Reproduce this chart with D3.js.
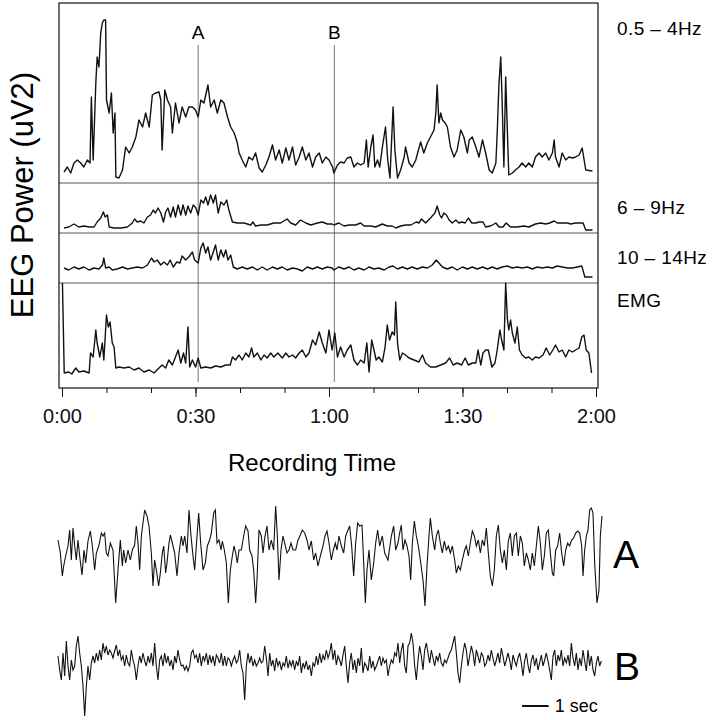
<!DOCTYPE html>
<html>
<head>
<meta charset="utf-8">
<script src="https://d3js.org/d3.v7.min.js"></script>
<style>
  body { margin: 0; background: #fff; }
  svg { font-family: "Liberation Sans", Arial, sans-serif; }
</style>
</head>
<body>
<div id="chart"></div>
<script>
// ---- data (time in s, power in arbitrary units) ----
const timeTicks = [0, 30, 60, 90, 120];
const tickLabels = ['0:00', '0:30', '1:00', '1:30', '2:00'];
const bandLabels = ['0.5 – 4Hz', '6 – 9Hz', '10 – 14Hz', 'EMG'];
const markerNames = ['A', 'B'];
const markerTimes = [30.6, 61.2];

const delta = [[0.45,6],[1.2,11],[1.95,5],[2.7,15],[3.45,18],[4.2,15],[4.9,11],[5.7,18],[6.3,15],[6.6,81],[7.0,18],[7.6,95],[7.9,121],[8.3,111],[8.7,145],[9.06,155],[9.4,158],[9.8,158],[10.0,78],[10.6,65],[11.1,85],[11.5,45],[11.9,65],[12.1,1],[12.8,0],[13.6,8],[14.3,31],[15.1,25],[15.8,31],[16.6,41],[17.3,58],[18.1,51],[18.8,65],[19.6,51],[20.3,83],[21.0,85],[21.8,86],[22.2,78],[22.5,28],[23.1,88],[23.7,78],[24.4,71],[24.8,45],[25.5,75],[26.3,55],[27.0,71],[27.8,61],[28.5,71],[29.3,71],[30.0,68],[30.6,61],[31.2,78],[31.9,75],[32.8,93],[33.4,71],[34.2,78],[34.9,65],[35.7,78],[36.4,75],[37.2,61],[37.9,51],[38.7,45],[39.4,35],[39.8,25],[40.5,18],[41.3,11],[42.0,21],[42.8,18],[43.5,25],[44.3,10],[45.0,6],[45.8,13],[46.5,21],[47.3,33],[48.0,18],[48.8,28],[49.5,15],[50.3,30],[51.0,18],[51.8,31],[52.5,13],[53.3,21],[54.0,31],[54.8,18],[55.5,25],[56.3,11],[57.0,21],[57.8,25],[58.5,15],[59.3,21],[60.0,18],[60.8,11],
  [61.1,5],[61.9,13],[62.6,16],[63.4,15],[64.1,20],[64.9,21],[65.6,11],[66.4,15],[67.1,13],[67.9,15],[68.4,38],[68.8,11],[69.4,31],[69.9,43],[70.3,11],[70.9,18],[71.4,11],[72.0,31],[72.7,51],[73.2,18],[73.7,0],[74.4,71],[74.8,28],[75.4,0],[76.1,8],[76.9,21],[77.2,31],[78.0,15],[78.7,11],[79.5,18],[80.1,28],[80.6,36],[81.3,25],[82.1,35],[82.8,41],[83.6,48],[84.0,65],[84.3,93],[84.7,55],[85.1,65],[85.5,58],[86.1,55],[86.6,51],[87.3,31],[88.1,21],[88.8,28],[89.6,48],[90.3,41],[91.1,25],[91.5,38],[92.2,41],[93.0,31],[93.7,21],[94.5,38],[95.2,25],[96.0,8],[96.7,5],[97.5,15],[97.8,45],[98.2,95],[98.6,121],[98.9,78],[99.3,11],[99.7,101],[100.1,45],[100.4,3],[101.2,5],[101.9,8],[102.7,11],[103.4,15],[104.2,11],[104.9,15],[105.7,11],[106.4,21],[107.2,25],[107.9,21],[108.7,25],[109.4,18],[110.2,25],[110.6,38],[110.9,21],[111.7,11],[112.4,25],[113.2,18],[113.9,21],[114.7,20],[115.4,21],[116.2,23],[116.9,30],[117.7,8],[119.2,7]];

const theta = [[0.45,3],[1.5,4],[2.7,7],[3.8,4],[4.9,5],[6.1,4],[7.2,4],[7.9,9],[8.7,13],[9.3,19],[9.7,14],[10.2,16],[10.6,4],[11.7,3],[13.2,3],[14.7,4],[15.8,8],[16.3,12],[16.9,9],[17.7,10],[18.4,8],[19.2,14],[19.9,16],[20.5,21],[21.0,18],[21.6,23],[22.2,18],[22.8,9],[23.3,19],[23.8,23],[24.4,14],[25.0,24],[25.5,14],[26.1,26],[26.7,16],[27.2,26],[27.8,16],[28.3,25],[28.9,18],[29.5,26],[30.1,23],[30.6,16],[31.2,31],[31.8,28],[32.3,34],[32.8,26],[33.4,36],[34.0,28],[34.5,36],[35.1,18],[35.7,29],[36.4,26],[37.0,31],[37.5,21],[38.3,9],[39.4,8],[40.9,8],[42.4,6],[42.9,9],[43.5,5],[44.7,6],[46.1,6],[47.6,8],[49.1,8],[50.6,12],[51.4,8],[52.5,6],[53.6,11],[54.8,8],[55.9,6],[57.4,8],[58.5,9],[59.6,7],[60.7,7],
  [61.1,6],[62.2,8],[63.4,5],[64.5,6],[66.0,6],[67.1,8],[67.9,5],[69.4,5],[70.5,4],[72.0,7],[73.1,5],[74.2,5],[75.0,3],[76.1,5],[77.2,6],[78.4,6],[79.6,9],[80.2,8],[80.8,12],[81.7,8],[82.8,13],[83.8,18],[84.3,25],[84.9,16],[85.3,13],[85.8,18],[86.4,16],[87.0,11],[87.7,8],[88.5,11],[89.2,8],[89.8,9],[90.6,8],[91.3,13],[92.1,8],[93.0,8],[93.7,9],[94.6,9],[95.2,4],[96.3,5],[97.5,8],[98.2,4],[99.1,4],[99.8,8],[100.8,4],[102.3,4],[103.8,5],[104.9,4],[106.4,7],[107.6,8],[108.7,7],[109.6,8],[110.6,10],[111.3,8],[112.4,8],[113.6,8],[114.3,7],[115.4,8],[116.3,8],[117.1,8],[117.7,1],[119.2,1]];

const alpha = [[0.45,10],[1.5,8],[2.7,11],[3.8,9],[4.9,11],[6.1,8],[7.2,10],[8.3,9],[9.1,13],[9.4,20],[9.8,10],[10.6,11],[11.3,8],[12.4,9],[13.6,11],[14.7,9],[15.8,10],[16.9,11],[18.1,10],[19.2,13],[20.1,20],[20.7,16],[21.4,18],[22.2,13],[22.9,16],[23.7,13],[24.3,18],[25.0,11],[25.8,16],[26.5,15],[27.0,22],[27.8,18],[28.5,21],[29.3,26],[29.8,18],[30.6,15],[31.2,30],[31.7,35],[32.3,25],[32.8,31],[33.4,18],[34.0,26],[34.5,33],[35.1,18],[35.7,28],[36.3,21],[36.8,28],[37.3,18],[37.9,23],[38.5,11],[39.4,9],[40.5,11],[41.6,9],[42.8,11],[43.9,8],[45.0,11],[46.1,8],[47.3,11],[48.4,9],[49.5,11],[50.6,8],[51.8,10],[52.9,9],[54.0,7],[55.1,11],[56.3,9],[57.4,11],[58.5,9],[59.6,11],[60.7,10],
  [61.1,8],[62.2,11],[63.4,9],[64.5,11],[65.6,8],[66.7,10],[67.9,8],[69.0,11],[70.1,9],[71.2,10],[72.4,8],[73.5,11],[74.4,12],[75.4,9],[76.5,11],[77.6,9],[78.7,11],[79.8,9],[81.0,11],[82.1,10],[83.2,13],[84.1,18],[84.7,15],[85.5,11],[86.6,9],[87.7,11],[88.8,8],[90.0,11],[91.1,9],[92.2,11],[93.3,9],[94.5,11],[95.6,9],[96.7,11],[97.8,9],[98.9,11],[100.1,12],[101.2,10],[102.3,11],[103.4,10],[104.6,11],[105.7,9],[106.8,11],[107.9,10],[109.1,11],[110.2,10],[111.3,12],[112.4,11],[113.6,10],[114.7,10],[115.8,11],[116.8,12],[117.5,1],[119.2,1]];

const emg = [[0.1,92],[0.5,2],[1.5,3],[2.2,1],[3.1,7],[3.8,3],[4.9,4],[6.1,2],[6.4,22],[7.0,18],[7.6,45],[7.9,32],[8.5,18],[9.06,32],[9.4,15],[10.0,60],[10.4,48],[10.8,53],[11.3,32],[11.7,28],[12.1,7],[12.8,8],[13.9,7],[15.1,8],[16.2,5],[17.3,7],[18.4,3],[19.6,5],[20.7,2],[21.8,7],[22.5,10],[23.3,7],[24.0,15],[24.8,10],[25.5,18],[26.1,25],[26.7,12],[27.3,22],[27.8,12],[28.3,48],[28.7,8],[29.3,15],[30.0,8],[30.6,17],[31.2,7],[32.3,8],[33.4,7],[34.5,9],[35.7,8],[36.8,10],[37.8,10],[38.3,18],[39.0,15],[39.8,20],[40.5,15],[41.3,22],[42.0,18],[42.6,27],[43.1,18],[43.9,22],[44.7,15],[45.4,20],[46.1,17],[46.9,22],[47.6,18],[48.5,22],[49.5,17],[50.3,22],[51.0,18],[51.8,20],[52.5,17],[53.3,22],[54.0,25],[54.8,18],[55.5,22],[56.3,35],[57.0,30],[57.8,43],[58.5,32],[59.3,22],[60.0,45],
  [60.7,25],[61.3,42],[61.9,18],[62.6,28],[63.4,18],[64.1,25],[64.9,30],[65.6,15],[66.4,10],[67.1,15],[67.9,12],[68.5,32],[69.0,3],[69.6,35],[70.1,25],[70.6,15],[71.2,18],[72.0,13],[72.6,28],[73.1,50],[73.6,35],[74.2,43],[74.7,40],[75.0,73],[75.4,32],[75.9,15],[76.5,22],[77.2,20],[78.0,17],[79.1,15],[80.2,13],[81.0,20],[81.7,12],[82.8,8],[84.0,8],[85.1,10],[86.2,12],[87.1,17],[87.9,10],[88.8,12],[89.8,10],[90.6,17],[91.3,10],[92.2,12],[93.0,12],[93.5,25],[94.1,10],[94.6,22],[95.2,25],[95.8,25],[96.6,8],[97.3,12],[97.8,25],[98.4,45],[98.8,35],[99.3,25],[99.7,92],[100.1,55],[100.4,45],[100.8,55],[101.2,42],[101.8,32],[102.3,48],[102.8,25],[103.4,20],[104.2,17],[104.9,18],[105.7,15],[106.4,18],[107.2,17],[108.1,20],[108.8,27],[109.6,20],[110.3,25],[110.9,30],[111.7,23],[112.4,25],[113.2,18],[113.9,25],[114.7,23],[115.4,25],[116.2,27],[116.8,38],[117.3,40],[117.8,25],[118.4,22],[119.0,2]];

// raw EEG epochs: [sample, value] at 80 Hz for A, evenly spaced values at 16 Hz for B
const fsA = 80;
const fsB = 16;
const traceA = [[0,13],[7,0],[13,-23],[17,-13],[23,-3],[30,7],[35,23],[40,-7],[45,25],[50,7],[55,-7],[60,13],[65,-3],[72,-22],[78,3],[83,-10],[90,12],[97,22],[103,7],[110,-17],[115,0],[123,8],[130,20],[135,17],[140,20],[145,0],[150,-3],[157,10],[165,3],[173,-50],[180,-17],[187,13],[193,-13],[197,3],[203,-10],[210,3],[217,-7],[223,3],[230,8],[235,27],[240,10],[245,-17],[250,17],[255,30],[260,43],[267,37],[273,27],[280,0],[285,-33],[290,-7],[295,-17],[302,-33],[307,-20],[313,0],[317,7],[323,-20],[327,-10],[333,10],[337,18],[343,10],[350,0],[357,-23],[363,0],[370,17],[375,7],[380,17],[387,0],[393,43],[399,17],[405,-3],[410,-17],[415,7],[422,40],[428,10],[435,-17],[442,-10],[448,7],[455,13],[460,20],[467,40],[472,43],[477,10],[483,13],[489,3],[493,12],[499,3],[505,-10],[511,-50],[517,-17],[523,-3],[528,7],[533,0],[538,-10],[543,3],[550,3],[557,17],[563,27],[570,22],[575,3],[582,-3],[587,-17],[593,-50],[597,-27],[603,23],[610,17],[615,0],[621,17],[627,27],[633,3],[640,13],[647,3],[653,47],[658,17],[663,-27],[669,3],[675,17],[682,7],[687,0],[693,3],[699,10],[705,3],[713,3],[720,13],[727,18],[733,23],[740,20],[747,13],[753,3],[760,12],[767,-7],[773,0],[780,-13],[787,-3],[795,7],[801,17],[807,22],[813,10],[820,-7],[826,3],[832,10],[837,3],[843,17],[850,7],[857,0],[863,17],[870,23],[875,27],[881,7],[887,-23],[893,10],[899,30],[905,27],[912,28],[918,-17],[922,-50],[927,-17],[933,3],[940,-27],[947,-10],[953,10],[959,23],[965,7],[973,17],[980,0],[990,-7],
  [1000,17],[1007,27],[1013,3],[1020,10],[1025,20],[1030,28],[1035,3],[1041,13],[1047,7],[1053,-3],[1058,-27],[1063,10],[1069,32],[1075,17],[1081,7],[1087,-7],[1095,-27],[1101,-53],[1107,-13],[1113,17],[1117,35],[1123,17],[1130,3],[1135,17],[1141,23],[1147,10],[1153,0],[1159,12],[1165,3],[1171,7],[1177,0],[1183,7],[1190,-7],[1195,-20],[1201,-13],[1207,-17],[1213,-7],[1220,3],[1225,7],[1231,-3],[1237,10],[1243,22],[1249,17],[1255,7],[1261,13],[1267,0],[1273,13],[1279,7],[1285,25],[1291,0],[1297,-23],[1303,-33],[1309,-17],[1315,17],[1321,28],[1327,3],[1333,-10],[1339,3],[1345,-17],[1351,12],[1357,20],[1363,-3],[1369,17],[1375,20],[1381,-3],[1387,17],[1393,10],[1399,-13],[1405,0],[1411,-7],[1417,-17],[1423,0],[1429,-13],[1435,7],[1441,27],[1447,10],[1453,-17],[1459,-3],[1465,20],[1471,23],[1477,0],[1483,-20],[1487,-23],[1493,3],[1499,7],[1505,20],[1511,0],[1517,-13],[1523,3],[1529,10],[1535,7],[1541,13],[1547,15],[1553,20],[1559,22],[1565,20],[1571,7],[1575,-23],[1580,3],[1585,17],[1590,23],[1595,43],[1600,45],[1605,40],[1610,-10],[1617,-50],[1623,-37],[1627,17],[1632,37]];

const traceB = [7,-7,-17,10,-13,22,-3,-17,3,-7,-3,17,27,10,-3,-23,-53,-23,-3,-17,0,7,0,10,2,13,3,20,10,17,8,13,10,5,12,18,7,13,3,7,-3,8,0,-3,13,3,-3,-17,-3,7,0,10,2,-3,7,0,10,-3,20,-3,-17,3,7,-3,10,0,7,-3,3,-7,7,0,13,3,-3,-2,-7,-3,-8,-3,10,13,5,8,0,10,-3,7,2,10,-2,8,0,7,-3,8,5,0,10,-3,7,-3,5,3,-3,3,7,0,3,13,-3,-10,-37,-3,10,0,7,-3,3,-3,0,5,0,2,17,5,-13,10,-3,3,-8,5,-3,2,-7,0,-3,7,-5,2,-3,3,-7,2,-3,7,-10,0,-5,2,-7,-2,-13,0,-3,7,-2,10,0,8,3,13,5,10,20,3,13,-2,7,3,-3,8,17,-3,-20,0,10,-7,3,-10,5,-3,15,-10,0,-3,-8,7,-5,2,-7,-3,2,7,-3,5,0,3,-13,
  -3,3,0,10,7,20,0,13,20,-3,-10,17,20,30,20,-3,-17,3,17,7,-7,13,20,10,0,13,5,-3,7,2,10,0,-3,3,0,5,10,13,20,27,10,-10,-20,-3,10,20,13,-3,7,17,10,-3,13,7,0,10,7,-3,0,8,2,13,5,-3,3,10,0,15,7,-3,3,10,3,-7,8,2,-3,5,10,0,-13,2,10,-2,-10,3,8,-3,5,-7,0,8,-3,3,10,2,-7,-17,7,13,-3,8,2,13,-3,5,0,8,-3,20,5,-3,10,-7,5,-3,13,2,-8,13,-3,7,-7,-13,0,7,-3,2];
const scaleBarSec = 1;
const scaleBarStart = 17.4;

// ---- layout ----
const W = 720, H = 720;
const svg = d3.select('#chart').append('svg')
    .attr('width', W)
    .attr('height', H);
svg.append('rect').attr('width', W).attr('height', H).attr('fill', '#fff');

const box = { left: 59, right: 598, top: 3, bottom: 388 };
const x = d3.scaleLinear().domain([0, 120]).range([62, 596]);

// panels: value scales for each band
const panels = [
    { data: delta, y: d3.scaleLinear().domain([0, 160]).range([178, 18]), labelY: 28 },
    { data: theta, y: d3.scaleLinear().domain([0, 40]).range([231, 191]), labelY: 207 },
    { data: alpha, y: d3.scaleLinear().domain([0, 40]).range([278, 238]), labelY: 257 },
    { data: emg, y: d3.scaleLinear().domain([0, 92]).range([375, 283]), labelY: 300 }
];
const dividers = [183, 233, 283];

// dividers
svg.selectAll('.divider')
    .data(dividers)
    .enter()
    .append('line')
    .attr('class', 'divider')
    .attr('x1', box.left).attr('x2', box.right)
    .attr('y1', d => d).attr('y2', d => d)
    .attr('stroke', '#555')
    .attr('stroke-width', 1);

// marker lines A / B
svg.selectAll('.marker')
    .data(markerTimes)
    .enter()
    .append('line')
    .attr('class', 'marker')
    .attr('x1', d => x(d)).attr('x2', d => x(d))
    .attr('y1', 45).attr('y2', 382)
    .attr('stroke', '#555')
    .attr('stroke-width', 0.8);

svg.selectAll('.marker-label')
    .data(markerNames)
    .enter()
    .append('text')
    .attr('x', (d, i) => x(markerTimes[i]))
    .attr('y', 39)
    .attr('text-anchor', 'middle')
    .style('font-size', '19px')
    .text(d => d);

// traces
panels.forEach((p, i) => {
    const line = d3.line()
        .x(d => x(d[0]))
        .y(d => p.y(d[1]));
    svg.append('path')
        .datum(p.data)
        .attr('d', line)
        .attr('fill', 'none')
        .attr('stroke', '#111')
        .attr('stroke-width', 1.4)
        .attr('stroke-linejoin', 'round');

    svg.append('text')
        .attr('x', 617)
        .attr('y', p.labelY)
        .attr('dy', '0.35em')
        .style('font-size', '19px')
        .style('letter-spacing', '0.4px')
        .text(bandLabels[i]);
});

// frame
svg.append('rect')
    .attr('x', box.left).attr('y', box.top)
    .attr('width', box.right - box.left)
    .attr('height', box.bottom - box.top)
    .attr('fill', 'none')
    .attr('stroke', '#111')
    .attr('stroke-width', 1.2);

// x axis
const minorAxis = svg.append('g')
    .attr('transform', `translate(0,${box.bottom})`)
    .call(d3.axisBottom(x).tickValues(d3.range(0, 121, 10)).tickSize(5).tickFormat(''));
minorAxis.select('.domain').remove();

const majorAxis = svg.append('g')
    .attr('transform', `translate(0,${box.bottom})`)
    .call(d3.axisBottom(x)
        .tickValues(timeTicks)
        .tickSize(9)
        .tickPadding(12)
        .tickFormat((d, i) => tickLabels[i]));
majorAxis.select('.domain').remove();
majorAxis.selectAll('text')
    .style('font-size', '20px')
    .style('font-family', '"Liberation Sans Narrow", "Liberation Sans", Arial, sans-serif')
    .attr('fill', '#111');
svg.selectAll('.tick line').attr('stroke', '#111');

svg.append('text')
    .attr('x', 312)
    .attr('y', 471)
    .attr('text-anchor', 'middle')
    .style('font-size', '24px')
    .text('Recording Time');

svg.append('text')
    .attr('transform', 'translate(33,195) rotate(-90)')
    .attr('text-anchor', 'middle')
    .style('font-size', '31px')
    .text('EEG Power (uV2)');

// raw epochs
const xRaw = d3.scaleLinear().domain([0, 20.4]).range([58, 602]);
const yA = d3.scaleLinear().domain([-60, 60]).range([613, 493]);
const yB = d3.scaleLinear().domain([-60, 60]).range([723, 603]);

svg.append('path')
    .datum(traceA)
    .attr('d', d3.line().x(d => xRaw(d[0] / fsA)).y(d => yA(d[1])))
    .attr('fill', 'none')
    .attr('stroke', '#111')
    .attr('stroke-width', 1.1);

svg.append('path')
    .datum(traceB)
    .attr('d', d3.line().x((d, i) => xRaw(i / fsB)).y(d => yB(d)))
    .attr('fill', 'none')
    .attr('stroke', '#111')
    .attr('stroke-width', 1.1);

svg.append('text').attr('x', 613).attr('y', 568).style('font-size', '39px').text('A');
svg.append('text').attr('x', 614).attr('y', 680).style('font-size', '39px').text('B');

// scale bar
svg.append('line')
    .attr('x1', xRaw(scaleBarStart)).attr('x2', xRaw(scaleBarStart + scaleBarSec))
    .attr('y1', 706).attr('y2', 706)
    .attr('stroke', '#111')
    .attr('stroke-width', 2);
svg.append('text')
    .attr('x', xRaw(scaleBarStart + scaleBarSec) + 6)
    .attr('y', 706)
    .attr('dy', '0.35em')
    .style('font-size', '18px')
    .text('1 sec');
</script>
</body>
</html>
